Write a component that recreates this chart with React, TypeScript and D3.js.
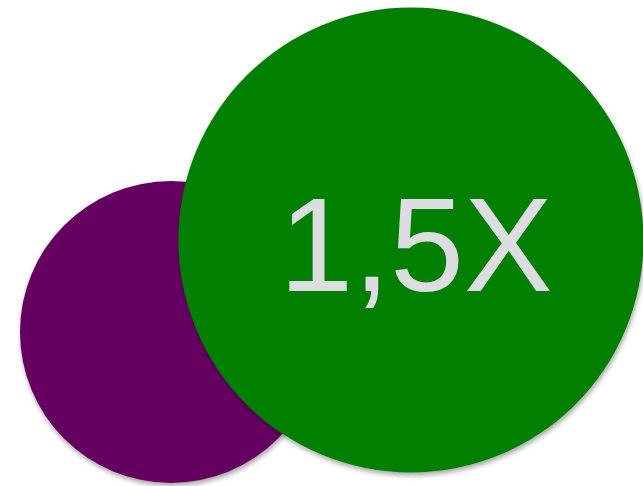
import * as d3 from 'd3';
import { useEffect, useRef } from 'react';

// Two bubbles, the second one 1.5x the first
const names = ['base', 'growth'];
const sizes = [1, 1.54];
const colors = ['#650060', '#037f03'];
const label = '1,5X';

const App: React.FC = () => {
  const ref = useRef<null | SVGSVGElement>(null);

  useEffect(() => {
    const width = 643;
    const height = 486;

    const svg = d3
      .select(ref.current)
      .attr('width', width)
      .attr('height', height)
      .attr('viewBox', [0, 0, width, height]);

    svg.selectAll('*').remove();

    // radius scale: size 1 -> 151px
    const r = d3.scaleLinear().domain([0, 1]).range([0, 151]);
    const x = d3.scalePoint().domain(names).range([171, 411]);
    const y = d3.scalePoint().domain(names).range([332, 240]);

    // soft drop shadow under the circles
    const filter = svg
      .append('defs')
      .append('filter')
      .attr('id', 'shadow')
      .attr('x', '-10%')
      .attr('y', '-10%')
      .attr('width', '120%')
      .attr('height', '120%');
    filter
      .append('feDropShadow')
      .attr('dx', 1)
      .attr('dy', 3)
      .attr('stdDeviation', 2.5)
      .attr('flood-color', '#000')
      .attr('flood-opacity', 0.35);

    const data = names.map((name, i) => ({ name, size: sizes[i], color: colors[i] }));

    svg
      .append('g')
      .selectAll('circle')
      .data(data)
      .join('circle')
      .attr('cx', (d) => x(d.name) as number)
      .attr('cy', (d) => y(d.name) as number)
      .attr('r', (d) => r(d.size))
      .attr('fill', (d) => d.color)
      .attr('filter', 'url(#shadow)');

    const big = data[1];
    svg
      .append('text')
      .attr('x', (x(big.name) as number) + 5)
      .attr('y', (y(big.name) as number) + 51)
      .attr('text-anchor', 'middle')
      .attr('fill', '#dcdde0')
      .attr('font-family', 'Liberation Sans, Arial, sans-serif')
      .attr('font-size', 133)
      .text(label);
  }, []);

  return (
    <svg
      ref={ref}
      width={643}
      height={486}
      style={{ position: 'absolute', left: 0, top: 0, display: 'block' }}
    />
  );
};

export default App;
